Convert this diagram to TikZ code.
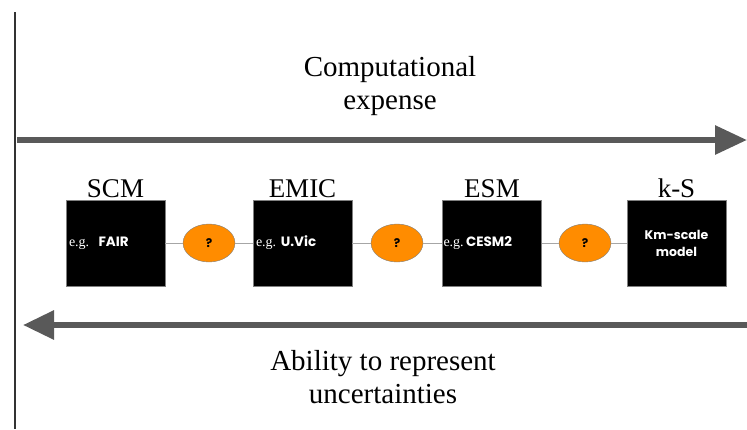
\documentclass[tikz,border=0pt]{standalone}
\usepackage{fontspec}
\setmainfont{Liberation Serif}
\newfontfamily\boxfont{Poppins}
\usetikzlibrary{arrows.meta,positioning,shapes.geometric}

\begin{document}
\begin{tikzpicture}[
    x=1pt, y=-1pt,
    model node/.style={rectangle,fill=black,draw=gray,minimum width=99pt,minimum height=86pt,text width=93pt,inner sep=3pt,align=left,text=white,font=\fontsize{14}{16}\selectfont},
    name node/.style={font=\fontsize{27}{30}\selectfont,inner sep=1pt},
    question node/.style={ellipse,fill=orange!90!yellow,draw=gray,minimum width=52pt,minimum height=38pt,inner sep=0pt,font=\boxfont\bfseries\fontsize{12}{14}\selectfont},
    axis label/.style={align=center,font=\fontsize{29}{33}\selectfont},
    link/.style={draw=gray!70,line width=1pt},
    big arrow/.style={draw=black!65,line width=6pt}
]
\useasboundingbox (0,0) rectangle (747,429);

% Left frame line
\coordinate (frametop) at (15,12);
\coordinate (framebot) at (15,429);
\draw[black!80,line width=1.2pt] (frametop) -- (framebot);

% Top: computational expense
\node[axis label] (expense) at (390,86) {Computational\\expense};
\coordinate (topstart) at (17,140);
\coordinate (topend) at (747,140);
\draw[big arrow,-{Triangle[length=32pt,width=28pt]}] (topstart) -- (topend);

% Models
\node[model node] (scm) at (115.5,243) {e.g.\ \ {\boxfont\bfseries\fontsize{13.5}{16}\selectfont FAIR}};
\node[model node] (emic) at (302.5,243) {e.g.\ {\boxfont\bfseries\fontsize{13.5}{16}\selectfont U.Vic}};
\node[model node,text width=97pt,inner sep=1pt] (esm) at (492,243) {e.g.\,{\boxfont\bfseries\fontsize{13.5}{16}\selectfont CESM2}};
\node[model node,align=center,font=\boxfont\bfseries\fontsize{12.5}{17}\selectfont] (ks) at (676.5,243) {Km-scale\\model};

% Model names
\node[name node,above=1pt of scm] (scmname) {SCM};
\node[name node,above=1pt of emic] (emicname) {EMIC};
\node[name node,above=1pt of esm] (esmname) {ESM};
\node[name node,above=1pt of ks] (ksname) {k-S};

% Question bubbles
\node[question node] (q1) at (209,243) {?};
\node[question node] (q2) at (397,243) {?};
\node[question node] (q3) at (585,243) {?};

% Links
\draw[link] (scm) -- (q1);
\draw[link] (q1) -- (emic);
\draw[link] (emic) -- (q2);
\draw[link] (q2) -- (esm);
\draw[link] (esm) -- (q3);
\draw[link] (q3) -- (ks);

% Bottom: ability to represent uncertainties
\coordinate (botstart) at (747,325);
\coordinate (botend) at (23,325);
\draw[big arrow,-{Triangle[length=31pt,width=28pt]}] (botstart) -- (botend);
\node[axis label] (ability) at (383,377) {Ability to represent\\uncertainties};

\end{tikzpicture}
\end{document}
